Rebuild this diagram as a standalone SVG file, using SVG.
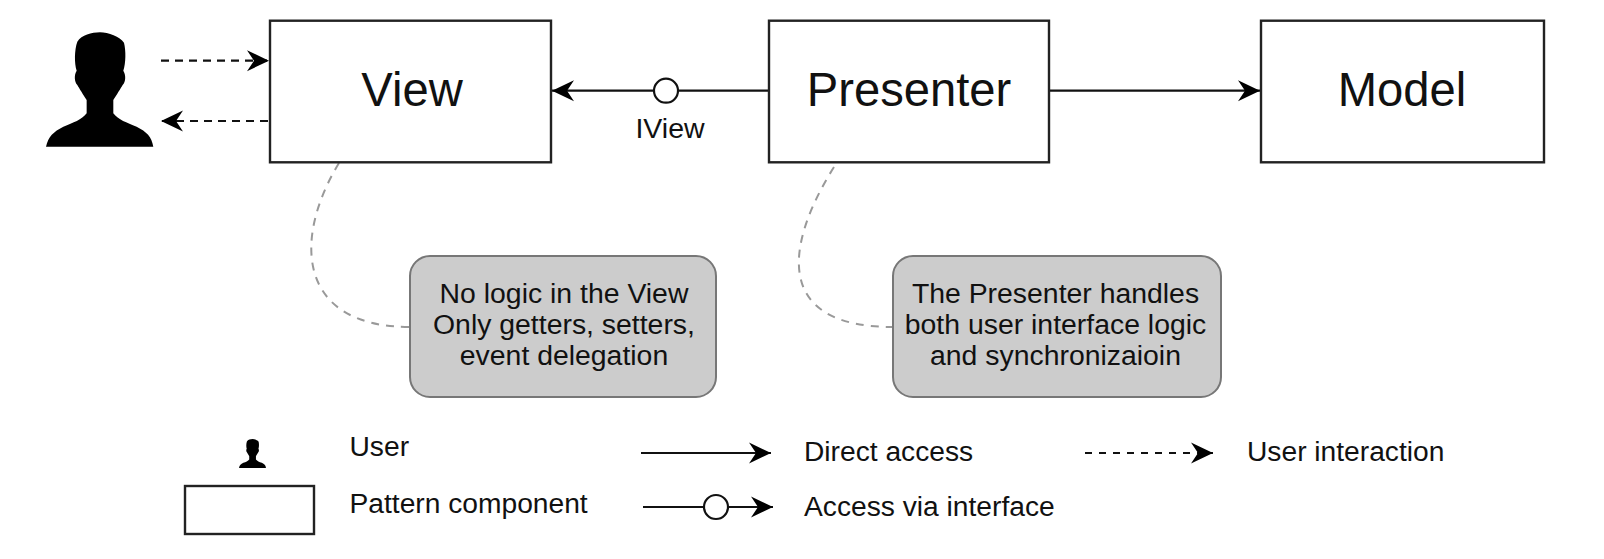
<svg xmlns="http://www.w3.org/2000/svg" xmlns:xlink="http://www.w3.org/1999/xlink" width="1604" height="559" viewBox="0 0 1604 559">
<style>
text{font-family:"Liberation Sans",Arial,sans-serif;fill:#111}
.box{fill:#fff;stroke:#222;stroke-width:2.4}
.title{font-size:47.2px;text-anchor:middle}
.note{fill:#ccc;stroke:#777;stroke-width:2}
.nt{font-size:28.4px;text-anchor:middle}
.lg{font-size:28.2px}
.ln{fill:none;stroke:#111;stroke-width:2.2}
.dash{stroke-dasharray:8 6}
.arr{marker-end:url(#ah)}
.tether{fill:none;stroke:#999;stroke-width:2;stroke-dasharray:8 7}
.port{fill:#fff;stroke:#111;stroke-width:2.2}
</style>
<defs>
<marker id="ah" markerUnits="userSpaceOnUse" viewBox="0 -11 23 22" markerWidth="23" markerHeight="22" refX="22" refY="0" orient="auto">
<path d="M0 -10.5L22 0L0 10.5L7 0Z" fill="#000"/>
</marker>
<symbol id="person" viewBox="78 97 322 343" overflow="visible">
<path fill="#000" d="M78 440C85 410 100 395 130 380C160 368 185 360 200 340L200 300C190 285 178 265 172 255C163 245 162 225 170 212C163 190 163 150 172 125C185 105 215 97 240 97C265 97 300 110 312 128C318 150 318 190 310 212C318 225 318 245 308 255C302 265 290 285 280 300L280 340C295 360 320 368 350 380C380 395 395 410 400 440Z"/>
</symbol>
</defs>
<rect width="1604" height="559" fill="#fff"/>
<g id="connectors">
<path class="ln dash arr" d="M161 60.7H269"/>
<path class="ln dash arr" d="M268 121H161"/>
<path class="ln arr" d="M769 90.7H552"/>
<circle class="port" cx="666" cy="90.7" r="12"/>
<path class="ln arr" d="M1049 90.7H1260"/>
<path class="tether" d="M339 163C292 240 298 327 410 327"/>
<path class="tether" d="M834 167C785 245 773 327 893 327"/>
</g>
<g id="user"><use xlink:href="#person" href="#person" x="46" y="32.3" width="107.3" height="114.4"/></g>
<g id="view"><rect class="box" x="270" y="20.7" width="281" height="141.6"/><text class="title" x="412" y="106">View</text></g>
<g id="presenter"><rect class="box" x="769" y="20.7" width="280" height="141.6"/><text class="title" x="909" y="106">Presenter</text></g>
<g id="model"><rect class="box" x="1261" y="20.7" width="283" height="141.6"/><text class="title" x="1402" y="106">Model</text></g>
<g id="iview-label"><text x="670" y="137.7" font-size="28.5" text-anchor="middle">IView</text></g>
<g id="note-view"><rect class="note" x="410" y="256" width="306" height="141" rx="20"/><text class="nt" x="564" y="303">No logic in the View</text><text class="nt" x="564" y="334">Only getters, setters,</text><text class="nt" x="564" y="365">event delegation</text></g>
<g id="note-presenter"><rect class="note" x="893" y="256" width="328" height="141" rx="20"/><text class="nt" x="1055.5" y="303">The Presenter handles</text><text class="nt" x="1055.5" y="334">both user interface logic</text><text class="nt" x="1055.5" y="365">and synchronizaioin</text></g>
<g id="legend">
<use xlink:href="#person" href="#person" x="239" y="439" width="27" height="29"/>
<text class="lg" x="349.5" y="456">User</text>
<rect class="box" x="185" y="486" width="129" height="48"/>
<text class="lg" x="349.5" y="513">Pattern component</text>
<path class="ln arr" d="M641 453H771"/>
<text class="lg" x="804" y="461">Direct access</text>
<path class="ln arr" d="M643 507H773"/>
<circle class="port" cx="716" cy="507" r="12"/>
<text class="lg" x="804" y="516">Access via interface</text>
<path class="ln dash arr" style="stroke-dasharray:7 7" d="M1085 453H1213"/>
<text class="lg" x="1247" y="461">User interaction</text>
</g>
</svg>
